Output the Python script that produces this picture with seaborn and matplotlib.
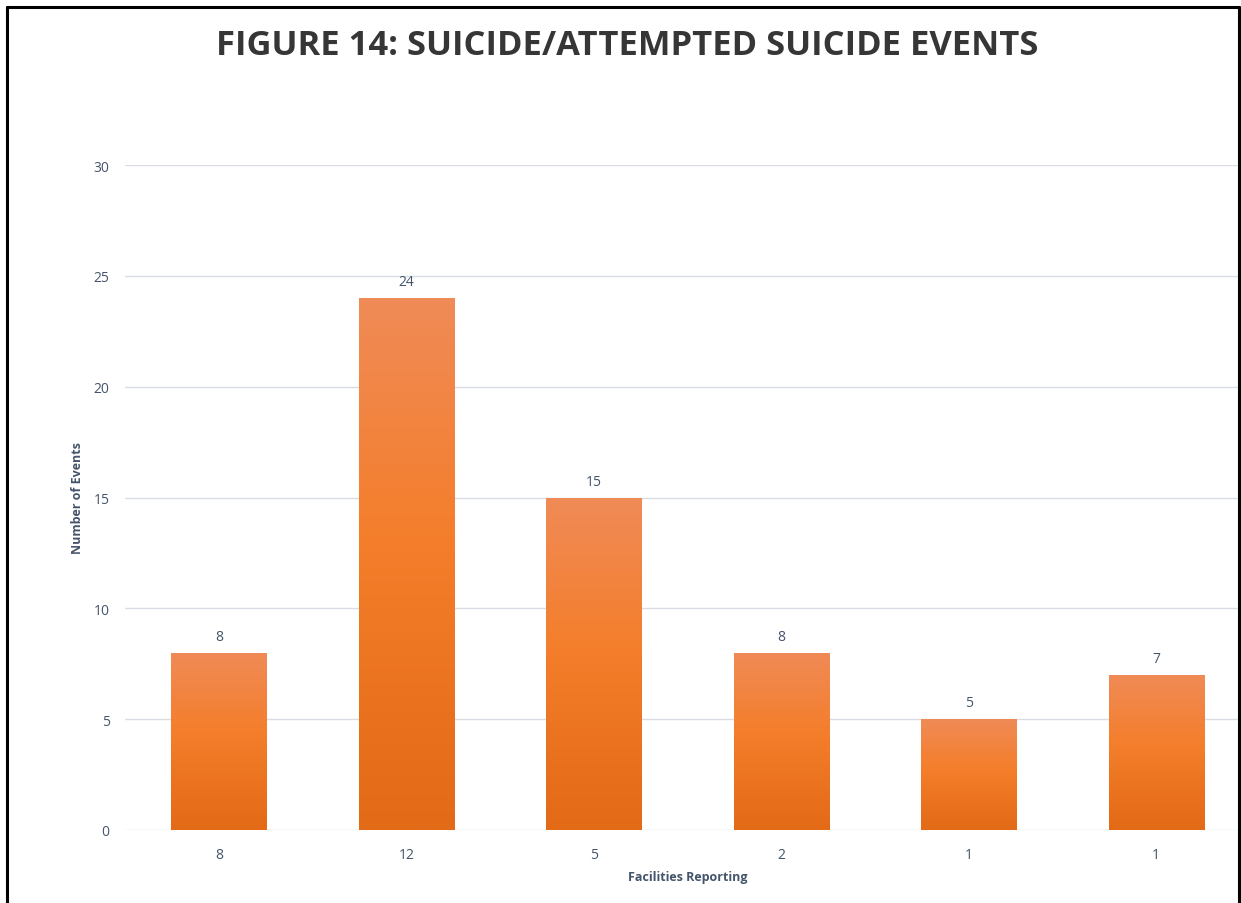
import numpy as np
import pandas as pd
import matplotlib
matplotlib.use("Agg")
import matplotlib.pyplot as plt
import seaborn as sns
from matplotlib.colors import LinearSegmentedColormap
from matplotlib.lines import Line2D

# data
facilities = ["8", "12", "5", "2", "1", "1"]
events = [8, 24, 15, 8, 5, 7]

df = pd.DataFrame({"pos": np.arange(len(events)), "events": events})

sns.set_style("white")
plt.rcParams["font.family"] = ["Open Sans", "DejaVu Sans"]

text_col = "#44546A"
fig = plt.figure(figsize=(12.41, 9.04), dpi=100)
ax = fig.add_axes([125 / 1241, 73 / 904, 1125 / 1241, 665 / 904])

sns.barplot(data=df, x="pos", y="events", color="#F47E2B", width=0.507,
            ax=ax, zorder=2)

# vertical orange gradient inside each bar
grad = LinearSegmentedColormap.from_list(
    "bar", [(0, "#E36A17"), (0.55, "#F47E2B"), (1, "#F08B57")])
ax.set_ylim(0, 30)
ax.set_xlim(-0.5, 5.5)
for p in list(ax.patches):
    x0, y0 = p.get_x(), p.get_y()
    w, h = p.get_width(), p.get_height()
    img = ax.imshow(np.linspace(0, 1, 256).reshape(-1, 1), cmap=grad,
                    origin="lower", aspect="auto",
                    extent=[x0, x0 + w, y0, y0 + h], zorder=3)
    img.set_clip_path(p)
    p.set_facecolor("none")
    p.set_edgecolor("none")
    ax.text(x0 + w / 2, h + 0.4, f"{int(h)}", ha="center", va="bottom",
            fontsize=10, color=text_col)
ax.set_xlim(-0.5, 5.5)
ax.set_ylim(0, 30)

ax.set_yticks(np.arange(0, 31, 5))
ax.yaxis.grid(True, color="#D9DDE3", lw=1)
ax.set_axisbelow(True)
ax.set_xticks(np.arange(len(facilities)))
ax.set_xticklabels(facilities)
ax.tick_params(length=0, labelsize=10, labelcolor=text_col, pad=12)
ax.tick_params(axis="y", pad=11)
for s in ax.spines.values():
    s.set_visible(False)

ax.set_xlabel("Facilities Reporting", fontsize=9, fontweight="bold",
              color=text_col, labelpad=6)
ax.set_ylabel("Number of Events", fontsize=9, fontweight="bold",
              color=text_col, labelpad=7)

fig.text(0.505, 0.949, "FIGURE 14: SUICIDE/ATTEMPTED SUICIDE EVENTS",
         ha="center", va="center", fontsize=24.8, fontweight="bold",
         color="#363636")

# frame around the chart
for xs, ys in [([7 / 1241, 7 / 1241], [0, 1 - 8 / 904]),
               ([7 / 1241, 1239 / 1241], [1 - 8 / 904, 1 - 8 / 904]),
               ([1239 / 1241, 1239 / 1241], [0, 1 - 8 / 904])]:
    fig.add_artist(Line2D(xs, ys, color="black", lw=2.2,
                          transform=fig.transFigure))

fig.savefig("out.png", dpi=100)
